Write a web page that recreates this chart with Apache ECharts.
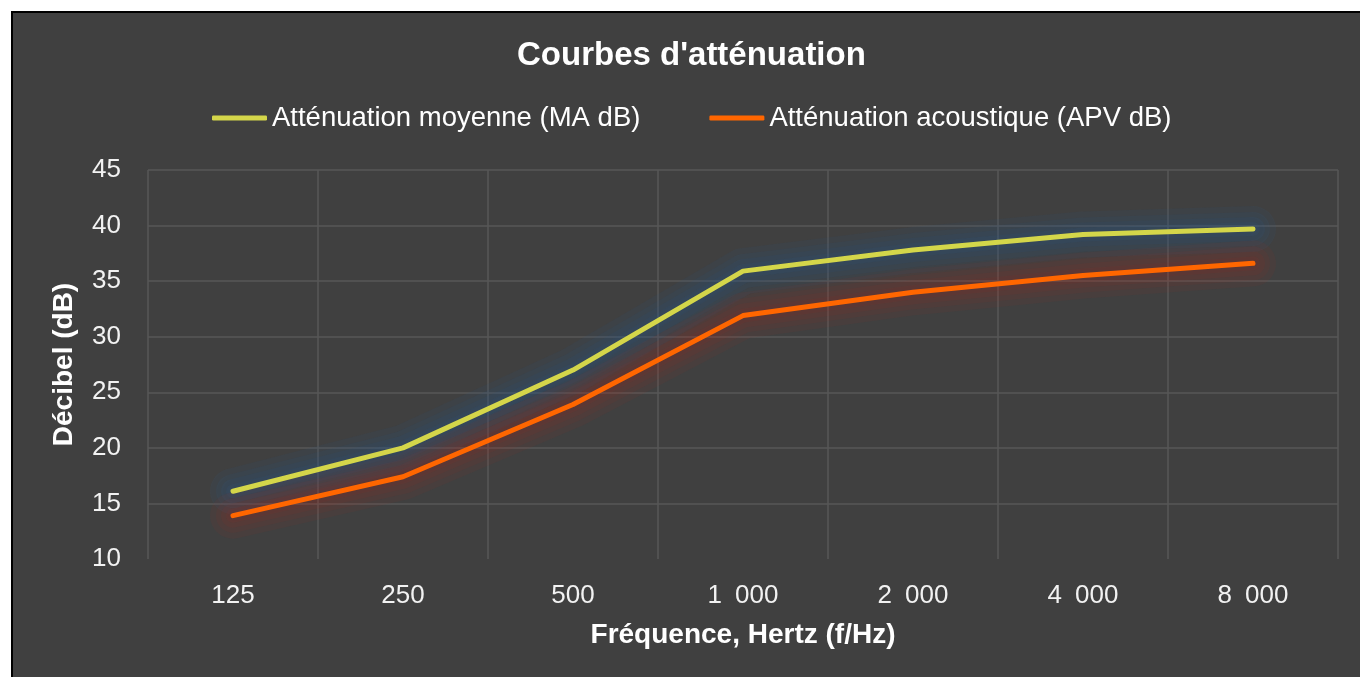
<!DOCTYPE html>
<html>
<head>
<meta charset="utf-8">
<style>
  html, body { margin: 0; padding: 0; background: #fff; }
  #chart { width: 1360px; height: 677px; }
</style>
<script src="https://cdn.jsdelivr.net/npm/echarts@6/dist/echarts.min.js"></script>
</head>
<body>
<div id="chart"></div>
<script>
// frequencies (Hz) and attenuation values
const frequencies = ['125', '250', '500', '1\u2002000', '2\u2002000', '4\u2002000', '8\u2002000'];
const moyenneMA = [16.1, 20.0, 27.0, 35.9, 37.8, 39.2, 39.7];
const acoustiqueAPV = [13.9, 17.4, 23.9, 31.9, 34.0, 35.5, 36.6];
const seriesNames = ['Atténuation moyenne (MA dB)', 'Atténuation acoustique (APV dB)'];

const chart = echarts.init(document.getElementById('chart'));
const font = '"Liberation Sans", Arial, Helvetica, sans-serif';
const grid = '#575757';

// soft coloured halo under each curve, built from a few stacked wide lines
function glow(data, rgb, a) {
  return [46, 34, 24, 14].map(w => ({
    type: 'line',
    data: data,
    symbol: 'none',
    silent: true,
    z: 1,
    lineStyle: {
      color: 'rgba(' + rgb + ', ' + a + ')',
      width: w,
      cap: 'round',
      join: 'round',
      shadowColor: 'rgba(' + rgb + ', ' + a + ')',
      shadowBlur: 14
    }
  }));
}

chart.setOption({
  backgroundColor: '#fff',
  textStyle: { fontFamily: font },
  graphic: [{
    type: 'rect',
    z: -10,
    shape: { x: 12, y: 12, width: 1400, height: 700 },
    style: { fill: '#404040', stroke: '#000', lineWidth: 2 }
  }],
  title: {
    text: "Courbes d'atténuation",
    left: 512,
    top: 34,
    textStyle: { color: '#fff', fontSize: 33, fontWeight: 'bold', fontFamily: font }
  },
  legend: {
    data: seriesNames,
    top: 99,
    left: 207,
    icon: 'roundRect',
    itemWidth: 55,
    itemHeight: 5,
    itemGap: 69,
    textStyle: { color: '#fff', fontSize: 27.5, fontFamily: font }
  },
  grid: { left: 148, right: 22, top: 170, bottom: 118 },
  xAxis: {
    type: 'category',
    data: frequencies,
    boundaryGap: true,
    name: 'Fréquence, Hertz (f/Hz)',
    nameLocation: 'middle',
    nameGap: 62,
    nameTextStyle: { color: '#fff', fontSize: 28, fontWeight: 'bold', fontFamily: font },
    axisLine: { show: false },
    axisTick: { show: false },
    axisLabel: { color: '#f2f2f2', fontSize: 26, margin: 24, fontFamily: font },
    splitLine: { show: true, interval: 0, lineStyle: { color: grid, width: 1.5 } }
  },
  yAxis: {
    type: 'value',
    min: 10,
    max: 45,
    interval: 5,
    name: 'Décibel (dB)',
    nameLocation: 'middle',
    nameGap: 70,
    nameTextStyle: { color: '#fff', fontSize: 28, fontWeight: 'bold', fontFamily: font },
    axisLine: { show: false },
    axisTick: { show: false },
    axisLabel: { color: '#f2f2f2', fontSize: 26, margin: 27, fontFamily: font },
    splitLine: {
      lineStyle: {
        color: ['transparent', grid, grid, grid, grid, grid, grid, grid],
        width: 1.5
      }
    }
  },
  series: [
    ...glow(moyenneMA, '45, 95, 150', 0.09),
    ...glow(acoustiqueAPV, '190, 45, 25', 0.07),
    {
      name: seriesNames[0],
      type: 'line',
      data: moyenneMA,
      symbol: 'none',
      itemStyle: { color: '#d4d64a' },
      lineStyle: { color: '#d4d64a', width: 5, cap: 'round', join: 'round' },
      z: 4
    },
    {
      name: seriesNames[1],
      type: 'line',
      data: acoustiqueAPV,
      symbol: 'none',
      itemStyle: { color: '#ff6600' },
      lineStyle: { color: '#ff6600', width: 5, cap: 'round', join: 'round' },
      z: 3
    }
  ]
});
</script>
</body>
</html>
